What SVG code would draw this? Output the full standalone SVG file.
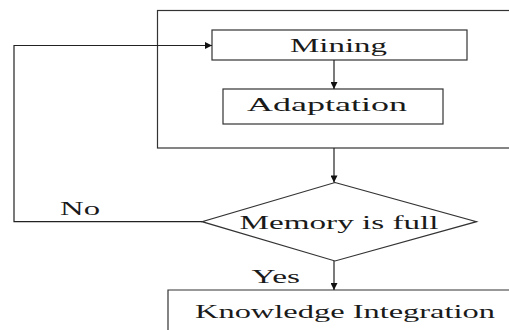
<svg xmlns="http://www.w3.org/2000/svg" width="509" height="330" viewBox="0 0 509 330">
<style>
.box{fill:none;stroke:#333;stroke-width:1.2}
.ln{fill:none;stroke:#222;stroke-width:1.2}
text{font-family:'Times New Roman',Times,'Liberation Serif','DejaVu Serif',serif;font-size:18px;fill:#1a1a1a}
</style>
<defs>
<marker id="ah" viewBox="0 0 10 10" refX="10" refY="5" markerWidth="8" markerHeight="7" markerUnits="userSpaceOnUse" orient="auto">
<path d="M0,0 L10,5 L0,10 z" fill="#111"/>
</marker>
</defs>
<rect width="509" height="330" fill="#fff"/>
<g id="container"><rect class="box" x="157.5" y="10.5" width="360" height="137.5"/></g>
<g id="mining"><rect class="box" x="212" y="30" width="255" height="30"/><text x="290" y="52" textLength="97" lengthAdjust="spacingAndGlyphs">Mining</text></g>
<g id="adaptation"><rect class="box" x="223" y="89" width="220" height="35"/><text x="247" y="111" textLength="160" lengthAdjust="spacingAndGlyphs">Adaptation</text></g>
<g id="memory"><polygon class="box" points="335,182.5 476.5,221.7 335,261 202,221.7"/><text x="239.5" y="229" textLength="199" lengthAdjust="spacingAndGlyphs">Memory is full</text></g>
<g id="knowledge"><polyline class="box" points="168,335 168,290 520,290"/><text x="195" y="318" textLength="300" lengthAdjust="spacingAndGlyphs">Knowledge Integration</text></g>
<g id="connectors">
<line class="ln" x1="334" y1="60" x2="334" y2="89" marker-end="url(#ah)"/>
<line class="ln" x1="334" y1="148" x2="334" y2="182.5" marker-end="url(#ah)"/>
<line class="ln" x1="334" y1="261" x2="334" y2="290" marker-end="url(#ah)"/>
<polyline class="ln" points="202,221.7 14,221.7 14,45.5 212,45.5" marker-end="url(#ah)"/>
<text x="60" y="215" textLength="40" lengthAdjust="spacingAndGlyphs">No</text>
<text x="251.5" y="283" textLength="48.5" lengthAdjust="spacingAndGlyphs">Yes</text>
</g>
</svg>
